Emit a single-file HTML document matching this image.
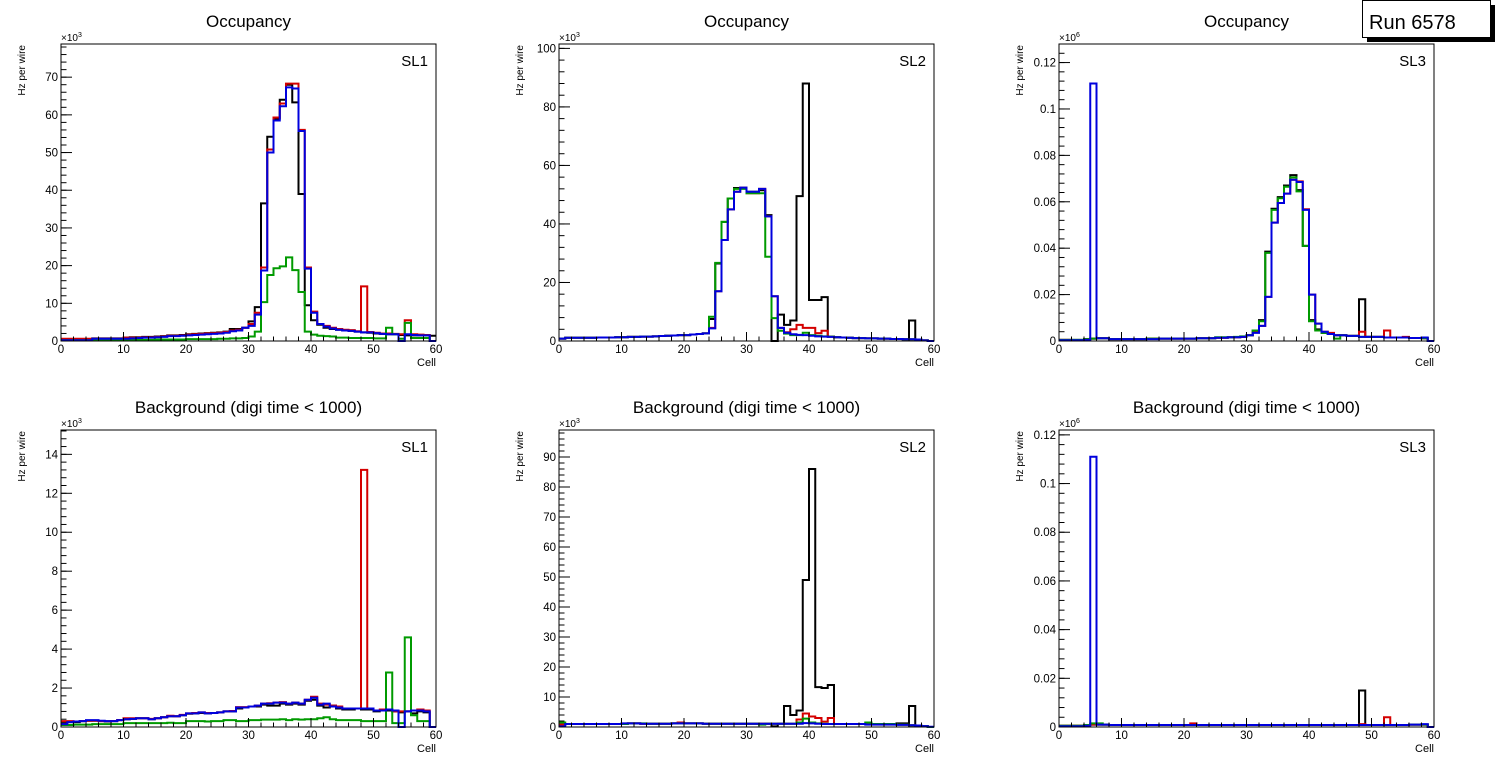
<!DOCTYPE html>
<html><head><meta charset="utf-8">
<style>
html,body{margin:0;padding:0;background:#fff;}
svg{display:block;font-family:"Liberation Sans",Arial,sans-serif;}
</style></head>
<body>
<svg id="c" width="1496" height="772" viewBox="0 0 1496 772"></svg>
<script>
// ---------- data (values in units of the panel exponent) ----------
const cells = [];
for (let i = 0; i < 60; i++) cells.push(i);

// Panel 1: Occupancy SL1 (x10^3)
const p1Black = [0.5,0.5,0.5,0.5,0.5,0.7,0.7,0.7,0.7,0.7,0.9,1,1,1.1,1.1,1.2,1.3,1.5,1.5,1.6,1.8,1.9,2,2.1,2.2,2.3,2.5,3.2,3.2,3.5,5.2,9,36.5,54.2,59,64,68,63.3,39,9.5,5.5,4.3,3.5,3.2,3,2.8,2.7,2.5,2.3,2.2,2,1.9,1.8,1.8,1.6,1.5,1.5,1.5,1.5,1.4];
const p1Red   = [0.6,0.6,0.6,0.6,0.6,0.6,0.6,0.6,0.6,0.6,0.9,0.9,0.9,1,1,1.1,1.2,1.4,1.4,1.5,1.7,1.8,1.9,2,2.1,2.2,2.4,2.8,3,3.5,4.5,7.5,19.5,50.8,59.3,63,68.3,68.3,56,19.5,7.8,4.5,4,3.5,3.2,3,2.9,2.6,14.5,2.4,2.2,2,2,1.9,1.8,5.5,1.8,1.7,1.6,0];
const p1Green = [0.2,0.2,0.2,0.2,0.2,0.3,0.3,0.3,0.3,0.3,0.3,0.3,0.3,0.3,0.3,0.4,0.4,0.4,0.4,0.4,0.5,0.5,0.5,0.5,0.5,0.6,0.6,0.7,0.7,0.8,1.2,2.5,10.3,17.5,19.3,19.8,22.2,18.8,13,2.5,1.7,1.4,1.3,1.2,0.9,0.9,0.8,0.8,0.8,0.8,0.7,0.7,3.5,1.8,0.6,4.8,0.8,0.8,0.8,0];
const p1Blue  = [0.2,0.2,0.2,0.2,0.2,0.6,0.6,0.6,0.6,0.6,0.6,0.7,0.8,0.9,0.9,1,1.1,1.3,1.3,1.4,1.5,1.6,1.7,1.8,1.9,2,2.2,2.6,2.8,3.5,4,7,18.7,50,58.5,62.3,67.3,67,55.7,19.2,7.5,4.5,3.8,3.3,3,2.8,2.7,2.5,2.3,2.3,2.1,1.9,1.8,1.8,0,1.8,1.6,1.5,1.5,0];

// Panel 2: Occupancy SL2 (x10^3)
const p2Black = [0.8,1.1,1.1,1.1,1.1,1.1,1.2,1.2,1.2,1.3,1.3,1.4,1.4,1.5,1.5,1.6,1.7,1.8,1.9,2,2,2.2,2.4,2.6,7.5,26.5,40.7,48.7,52.3,52.3,51,51,51.5,43,0,9,5.5,7,49.5,88,14,14,15,1.5,1.3,1.2,1.1,1,1,0.9,0.9,0.8,0.8,0.7,0.7,0.6,7,0.5,0.2,0];
const p2Red   = [0.8,1.1,1.1,1.1,1.1,1.1,1.2,1.2,1.2,1.3,1.3,1.4,1.4,1.5,1.5,1.6,1.7,1.8,1.9,2,2,2.2,2.4,2.6,4.5,17,34.5,45,51,52.4,50.5,50.5,52,42.6,15.3,4.5,3,4,5.5,4.5,4.5,2.7,3.5,1.5,1.3,1.2,1.1,1,1,0.9,0.9,0.8,0.8,0.7,0.7,0.6,0.6,0.5,0.2,0];
const p2Green = [0.8,1.1,1.1,1.1,1.1,1.1,1.2,1.2,1.2,1.3,1.3,1.4,1.4,1.5,1.5,1.6,1.7,1.8,1.9,2,2,2.2,2.4,2.6,8.3,26.7,40.7,48.7,52,52,50.5,50.5,50.5,28.8,7.8,3.5,2.5,2,2,2.8,2,1.8,1.6,1.5,1.3,1.2,1.1,1,1,0.9,0.9,0.8,0.8,0.7,0.7,0.6,0.6,0.5,0.2,0];
const p2Blue  = [0.8,1.1,1.1,1.1,1.1,1.1,1.2,1.2,1.2,1.3,1.3,1.4,1.4,1.5,1.5,1.6,1.7,1.8,1.9,2,2,2.2,2.4,2.6,4.3,17,34.5,45,51,52.4,51,51,52,42.6,15.3,4.5,2.8,2.3,2.1,2,1.8,1.6,1.5,1.4,1.3,1.2,1.1,1,1,0.9,0.9,0.8,0.8,0.7,0.7,0.6,0.6,0.5,0.2,0];

// Panel 3: Occupancy SL3 (x10^6)
const p3Black = [0.0005,0.0005,0.0005,0.0005,0.0008,0.001,0.0012,0.0012,0.0008,0.0008,0.0008,0.0008,0.0008,0.0008,0.001,0.001,0.001,0.001,0.001,0.001,0.001,0.001,0.0012,0.0012,0.0012,0.0014,0.0014,0.0016,0.0016,0.0018,0.0025,0.0045,0.009,0.0385,0.057,0.062,0.067,0.0715,0.065,0.041,0.009,0.005,0.0035,0.003,0.0025,0.0025,0.0022,0.0022,0.018,0.0018,0.0018,0.0018,0.0015,0.0015,0.0015,0.0015,0.0013,0.0013,0.0012,0];
const p3Red   = [0.0005,0.0005,0.0003,0.0003,0.0008,0.001,0.0012,0.0012,0.0008,0.0008,0.0008,0.0008,0.0008,0.0008,0.001,0.001,0.001,0.001,0.001,0.001,0.001,0.001,0.0012,0.0012,0.0012,0.0014,0.0014,0.0016,0.0016,0.0018,0.0025,0.004,0.0065,0.019,0.051,0.0595,0.0635,0.0695,0.0688,0.0568,0.02,0.0075,0.004,0.0035,0.0025,0.0025,0.0022,0.0022,0.004,0.0018,0.0018,0.0018,0.0045,0.0015,0.0015,0.0018,0.0013,0.0013,0.0012,0];
const p3Green = [0.0005,0.0005,0.0005,0.0005,0.0008,0.001,0.0012,0.0012,0.0008,0.0008,0.0008,0.0008,0.0008,0.0008,0.001,0.001,0.001,0.001,0.001,0.001,0.001,0.001,0.0012,0.0012,0.0012,0.0016,0.0016,0.0016,0.0018,0.002,0.0025,0.0045,0.0085,0.038,0.0565,0.0615,0.0665,0.0705,0.0645,0.041,0.0085,0.0045,0.0035,0.003,0.001,0.0025,0.0022,0.0022,0.0018,0.0018,0.0018,0.0018,0.0015,0.0015,0.0015,0.0015,0.0013,0.0013,0.0012,0];
const p3Blue  = [0.0003,0.0003,0.0003,0.0003,0.0005,0.111,0.0012,0.0012,0.0008,0.0008,0.0008,0.0008,0.0008,0.0008,0.0008,0.0008,0.001,0.001,0.001,0.001,0.001,0.001,0.0012,0.0012,0.0012,0.0014,0.0014,0.0016,0.0016,0.0018,0.0025,0.0035,0.0065,0.019,0.051,0.0595,0.0635,0.0695,0.0685,0.0565,0.02,0.0075,0.004,0.003,0.0025,0.0025,0.0022,0.0022,0.0018,0.0018,0.0018,0.0018,0.0015,0.0015,0.0015,0.0015,0.0013,0.0013,0.0015,0];

// Panel 4: Background SL1 (x10^3)
const p4Black = [0.2,0.25,0.25,0.3,0.32,0.32,0.3,0.28,0.3,0.35,0.4,0.42,0.45,0.45,0.4,0.45,0.5,0.55,0.55,0.6,0.68,0.7,0.72,0.7,0.72,0.75,0.8,0.8,0.95,1,1.05,1.05,1.15,1.1,1.1,1.2,1.15,1.2,1.15,1.35,1.4,1.1,1,1.1,0.95,0.9,0.9,0.95,0.9,0.9,0.8,0.85,0.85,0.8,0.75,0.8,0.7,0.8,0.75,0];
const p4Red   = [0.3,0.3,0.28,0.3,0.32,0.33,0.3,0.3,0.3,0.35,0.45,0.45,0.45,0.45,0.42,0.45,0.5,0.58,0.55,0.62,0.7,0.72,0.75,0.72,0.72,0.75,0.8,0.82,1.02,1.02,1.05,1.1,1.2,1.22,1.25,1.28,1.2,1.25,1.2,1.4,1.55,1.2,1.15,1.1,1.05,0.95,0.95,0.95,13.2,0.95,0.85,0.9,0.9,0.8,0.8,0.8,0.85,0.9,0.85,0];
const p4Green = [0.1,0.1,0.12,0.12,0.12,0.15,0.15,0.15,0.15,0.15,0.2,0.2,0.2,0.2,0.2,0.2,0.2,0.22,0.2,0.2,0.3,0.3,0.3,0.28,0.3,0.3,0.35,0.35,0.3,0.3,0.35,0.35,0.38,0.38,0.38,0.4,0.35,0.4,0.38,0.4,0.4,0.45,0.5,0.4,0.35,0.35,0.35,0.35,0.3,0.3,0.3,0.3,2.8,0.2,0.2,4.6,0.6,0.3,0.3,0];
const p4Blue  = [0.15,0.25,0.28,0.3,0.35,0.35,0.32,0.3,0.3,0.35,0.4,0.42,0.45,0.45,0.4,0.45,0.5,0.55,0.55,0.6,0.7,0.7,0.75,0.7,0.72,0.75,0.8,0.8,1,1,1.05,1.1,1.2,1.2,1.25,1.25,1.2,1.25,1.2,1.4,1.5,1.15,1.2,1.05,1,0.95,0.95,0.95,0.95,0.95,0.85,0.85,0.9,0.85,0,0.8,0.85,0.85,0.8,0];

// Panel 5: Background SL2 (x10^3)
const p5Black = [0.8,1,1,1,1,1,1,1,1,1,1,1.2,1.2,1.1,1.1,1.1,1.1,1.1,1.2,1.5,1.2,1.2,1.2,1.1,1.1,1.1,1.1,1.1,1.1,1.1,1.1,1.1,1.1,1.1,0.2,1.1,7,4,5.5,49,86,13.3,13,14,1,1,1,1,1,1,1,1,1,1,1.2,1.2,7,0.3,0.2,0];
const p5Red   = [0.8,1,1,1,1,1,1,1,1,1,1,1.2,1.2,1.1,1.1,1.1,1.1,1.1,1.2,1.5,1.2,1.2,1.2,1.1,1.1,1.1,1.1,1.1,1.1,1.1,1.1,1.1,1.1,1.1,1.1,1.1,1.1,1.1,2.5,4.5,3.5,3,1.8,3,1,1,1,1,1,1,1,1,1,1,0.8,0.8,0.6,0.5,0.3,0];
const p5Green = [1.5,1,1,1,1,1,1,1,1,1,1,1.2,1.2,1.2,1.1,1.1,1.1,1.1,1.2,1.2,1.2,1.2,1.2,1.1,1.1,1.1,1.1,1.1,1.1,1.1,1.1,1.1,0.8,1.1,1.1,1.1,1.1,1.1,1.5,2.8,1.5,1.2,1.1,1,1,1,1,1,1,1.5,1,1,1,1,0.8,0.8,0.6,0.5,0.3,0];
const p5Blue  = [0.2,1,1,1,1,1,1,1,1,1,1.2,1.2,1.2,1.1,1.1,1.1,1.1,1.1,1.2,1.2,1.2,1.2,1.2,1.1,1.1,1.1,1.1,1.1,1.1,1.1,1.1,1.1,1.1,1.1,1.1,1.1,1.1,1.1,1.1,1.3,1.2,1.1,1,1,1,1,1,1,1,0.8,0.8,0.8,0.8,0.8,0.7,0.7,0.6,0.5,0.3,0.1];

// Panel 6: Background SL3 (x10^6)
const p6Black = [0.0005,0.0005,0.0005,0.0005,0.0008,0.001,0.001,0.001,0.0008,0.0008,0.0008,0.0008,0.0008,0.0008,0.0008,0.0008,0.0008,0.0008,0.0008,0.0008,0.0008,0.0008,0.0008,0.0008,0.0008,0.0008,0.0008,0.0008,0.0008,0.0008,0.0008,0.0008,0.0008,0.0008,0.0008,0.0008,0.0008,0.0008,0.0008,0.0008,0.0008,0.0008,0.0008,0.0008,0.0008,0.0008,0.0008,0.0008,0.015,0.0008,0.0008,0.0008,0.0008,0.0008,0.0008,0.0008,0.001,0.001,0.001,0];
const p6Red   = [0.0005,0.0005,0.0005,0.0005,0.0008,0.001,0.001,0.001,0.0008,0.0008,0.0008,0.0008,0.0008,0.0008,0.0008,0.0008,0.0008,0.0008,0.0008,0.0008,0.0008,0.0015,0.0008,0.0008,0.0008,0.0008,0.0008,0.0008,0.0008,0.0008,0.0008,0.0008,0.0008,0.0008,0.0008,0.0008,0.0008,0.0008,0.0008,0.0008,0.0008,0.0008,0.0008,0.0008,0.0008,0.0008,0.0008,0.0008,0.0012,0.0008,0.0008,0.0008,0.004,0.0008,0.0008,0.0008,0.001,0.001,0.001,0];
const p6Green = [0.0005,0.0005,0.0005,0.0005,0.0008,0.0015,0.0015,0.001,0.0008,0.0008,0.0008,0.0008,0.0008,0.0008,0.0008,0.0008,0.0008,0.0008,0.0008,0.0008,0.0008,0.0008,0.0008,0.0008,0.0008,0.0008,0.0008,0.0008,0.0008,0.0008,0.0008,0.0008,0.0008,0.0008,0.0008,0.0008,0.0008,0.0008,0.0008,0.0008,0.0008,0.0008,0.0008,0.0008,0.0008,0.0008,0.0008,0.0008,0.0008,0.0008,0.0008,0.0008,0.0008,0.0008,0.0008,0.0008,0.001,0.001,0.001,0];
const p6Blue  = [0.0003,0.0003,0.0003,0.0003,0.0005,0.111,0.001,0.001,0.0008,0.0008,0.0008,0.0008,0.0008,0.0008,0.0008,0.0008,0.0008,0.0008,0.0008,0.0008,0.0008,0.0008,0.0008,0.0008,0.0008,0.0008,0.0008,0.0008,0.0008,0.0008,0.0008,0.0008,0.0008,0.0008,0.0008,0.0008,0.0008,0.0008,0.0008,0.0008,0.0008,0.0008,0.0008,0.0008,0.0008,0.0008,0.0008,0.0008,0.0008,0.0008,0.0008,0.0008,0.0008,0.0008,0.0008,0.0008,0.001,0.001,0.0012,0];

const xTickLabels = ["0","10","20","30","40","50","60"];
const p1YTicks = [0,10,20,30,40,50,60,70];
const p2YTicks = [0,20,40,60,80,100];
const p3YTicks = [0,0.02,0.04,0.06,0.08,0.1,0.12];
const p4YTicks = [0,2,4,6,8,10,12,14];
const p5YTicks = [0,10,20,30,40,50,60,70,80,90];
const p6YTicks = [0,0.02,0.04,0.06,0.08,0.1,0.12];
const p1YLabels = ["0","10","20","30","40","50","60","70"];
const p2YLabels = ["0","20","40","60","80","100"];
const p3YLabels = ["0","0.02","0.04","0.06","0.08","0.1","0.12"];
const p4YLabels = ["0","2","4","6","8","10","12","14"];
const p5YLabels = ["0","10","20","30","40","50","60","70","80","90"];
const p6YLabels = ["0","0.02","0.04","0.06","0.08","0.1","0.12"];

// ---------- rendering ----------
const NS = "http://www.w3.org/2000/svg";
const svg = document.getElementById("c");
function mk(tag, attrs, parent, text) {
  const e = document.createElementNS(NS, tag);
  for (const k in attrs) e.setAttribute(k, attrs[k]);
  if (text !== undefined) e.textContent = text;
  (parent || svg).appendChild(e);
  return e;
}
const W = 375, H = 297;
const panels = [
  {id:"p1", x0:61,  y0:44,  ymax:78.8,  minor:2,     ticks:p1YTicks, labels:p1YLabels, exp:"3", title:"Occupancy", sl:"SL1", series:[p1Black,p1Red,p1Green,p1Blue]},
  {id:"p2", x0:559, y0:44,  ymax:101.5, minor:4,     ticks:p2YTicks, labels:p2YLabels, exp:"3", title:"Occupancy", sl:"SL2", series:[p2Black,p2Red,p2Green,p2Blue]},
  {id:"p3", x0:1059,y0:44,  ymax:0.128, minor:0.004, ticks:p3YTicks, labels:p3YLabels, exp:"6", title:"Occupancy", sl:"SL3", series:[p3Black,p3Red,p3Green,p3Blue]},
  {id:"p4", x0:61,  y0:430, ymax:15.25, minor:0.4,   ticks:p4YTicks, labels:p4YLabels, exp:"3", title:"Background (digi time < 1000)", sl:"SL1", series:[p4Black,p4Red,p4Green,p4Blue]},
  {id:"p5", x0:559, y0:430, ymax:99,    minor:2,     ticks:p5YTicks, labels:p5YLabels, exp:"3", title:"Background (digi time < 1000)", sl:"SL2", series:[p5Black,p5Red,p5Green,p5Blue]},
  {id:"p6", x0:1059,y0:430, ymax:0.122, minor:0.004, ticks:p6YTicks, labels:p6YLabels, exp:"6", title:"Background (digi time < 1000)", sl:"SL3", series:[p6Black,p6Red,p6Green,p6Blue]}
];
const colors = ["#000000","#d40000","#009a00","#0000dd"];
const seriesNames = ["black","red","green","blue"];

panels.forEach(p => {
  const g = mk("g", {});
  
  
  const X = v => p.x0 + v / 60 * W;
  const Y = v => p.y0 + H - v / p.ymax * H;
  const cx = p.x0 + W / 2;
  const t = mk("text", {x:cx, y:p.y0 - 17, "font-size":17, "text-anchor":"middle"}, g, p.title);
  
  

  // histograms
  p.series.forEach((arr, si) => {
    let d = "M" + X(0) + "," + Y(arr[0]);
    for (let i = 0; i < cells.length; i++) {
      if (i > 0) d += "V" + Y(arr[i]).toFixed(2);
      d += "H" + X(cells[i] + 1).toFixed(2);
    }
    const path = mk("path", {d:d, fill:"none", stroke:colors[si], "stroke-width":2}, g);
    
    
  });

  // frame
  const fr = mk("rect", {x:p.x0, y:p.y0, width:W, height:H, fill:"none", stroke:"#000", "stroke-width":1}, g);
  
  

  // y ticks
  const yax = mk("g", {}, g);
  
  
  for (let v = 0; v <= p.ymax + 1e-9; v += p.minor) {
    const yy = Y(v);
    mk("line", {x1:p.x0, x2:p.x0 + 5.5, y1:yy, y2:yy, stroke:"#000", "stroke-width":1}, yax);
  }
  p.ticks.forEach((v, i) => {
    const yy = Y(v);
    mk("line", {x1:p.x0, x2:p.x0 + 11, y1:yy, y2:yy, stroke:"#000", "stroke-width":1}, yax);
    const lb = mk("text", {x:p.x0 - 3, y:yy + 4, "font-size":11.5, "text-anchor":"end"}, yax, p.labels[i]);
    
    
  });
  const ex = mk("text", {x:p.x0, y:p.y0 - 3, "font-size":10}, g);
  
  
  ex.textContent = "×10";
  mk("tspan", {dy:-4, "font-size":7}, ex, p.exp);
  const yt = mk("text", {x:0, y:0, "font-size":10, "text-anchor":"end", transform:"translate(" + (p.x0 - 36) + "," + (p.y0 + 1) + ") rotate(-90)"}, g, "Hz per wire");
  
  

  // x ticks
  const xax = mk("g", {}, g);
  
  
  const yb = p.y0 + H;
  for (let v = 0; v <= 60; v += 2) {
    mk("line", {x1:X(v), x2:X(v), y1:yb, y2:yb - 4.5, stroke:"#000", "stroke-width":1}, xax);
  }
  xTickLabels.forEach((s, i) => {
    const v = i * 10;
    mk("line", {x1:X(v), x2:X(v), y1:yb, y2:yb - 9, stroke:"#000", "stroke-width":1}, xax);
    const lb = mk("text", {x:X(v), y:yb + 12, "font-size":11.5, "text-anchor":"middle"}, xax, s);
    
    
  });
  const xt = mk("text", {x:p.x0 + W, y:yb + 25, "font-size":11, "text-anchor":"end"}, g, "Cell");
  
  
  const sl = mk("text", {x:p.x0 + W - 8, y:p.y0 + 22, "font-size":15, "text-anchor":"end"}, g, p.sl);
  
  
});

// Run box
const rb = mk("g", {});


mk("rect", {x:1367, y:5, width:128, height:37, fill:"#000"}, rb);
mk("rect", {x:1362.5, y:0.5, width:128, height:37, fill:"#fff", stroke:"#000", "stroke-width":1}, rb);
const rt = mk("text", {x:1369, y:29, "font-size":20}, rb, "Run 6578");


</script>
</body></html>
